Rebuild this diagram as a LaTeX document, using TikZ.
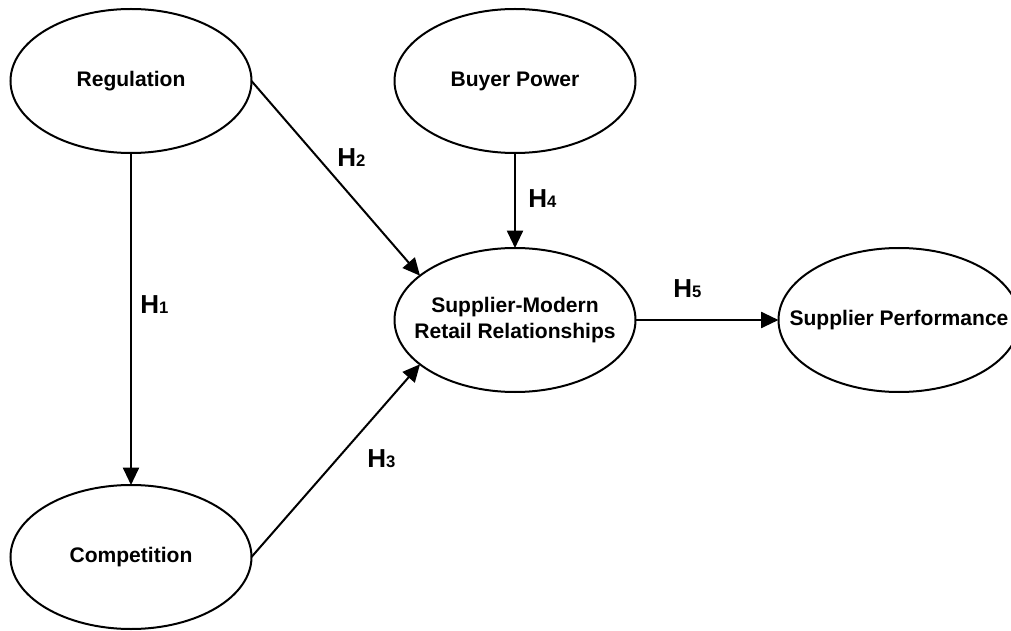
\documentclass[tikz,border=0pt]{standalone}
\usepackage{fontspec}
\setmainfont{Liberation Sans}
\usetikzlibrary{shapes.geometric,arrows.meta}
\begin{document}
\begin{tikzpicture}[x=0.75pt,y=-0.75pt,
  construct/.style={draw, ellipse, line width=1.5pt, inner sep=0pt, outer sep=0pt,
    minimum width=180.75pt, minimum height=108pt,
    label={[align=center, inner sep=0pt,
      font=\fontsize{15.8pt}{19.5pt}\selectfont\bfseries]center:#1}},
  path/.style={line width=1.5pt, -{Triangle[length=13pt,width=12pt]}},
  hyp/.style={anchor=base west, inner sep=0pt}]
\useasboundingbox (0,0) rectangle (1011,631);
\begin{scope}
\clip (0,0) rectangle (1011,631);
\node[construct={Regulation}]  (reg)  at (131,81)  {};
\node[construct={Buyer Power}] (bp)   at (515,81)  {};
\node[construct={Supplier-Modern\\Retail Relationships}] (smrr) at (515,320) {};
\node[construct={Supplier Performance}] (sp) at (899,320) {};
\node[construct={Competition}] (comp) at (131,557) {};
\end{scope}

\draw[path] (reg.south)  -- (comp.north);
\draw[path] (reg.east)   -- (smrr.155);
\draw[path] (comp.east)  -- (smrr.205);
\draw[path] (bp.south)   -- (smrr.north);
\draw[path] (smrr.east)  -- (sp.west);

\newcommand{\hlabel}[1]{{\fontsize{19.5pt}{20pt}\selectfont\bfseries H}{\fontsize{12.5pt}{13pt}\selectfont\bfseries #1}}
\node[hyp] (h1) at (140,313) {\hlabel{1}};
\node[hyp] (h2) at (337,167) {\hlabel{2}};
\node[hyp] (h3) at (367,467) {\hlabel{3}};
\node[hyp] (h4) at (528,208) {\hlabel{4}};
\node[hyp] (h5) at (673,297) {\hlabel{5}};
\end{tikzpicture}
\end{document}
